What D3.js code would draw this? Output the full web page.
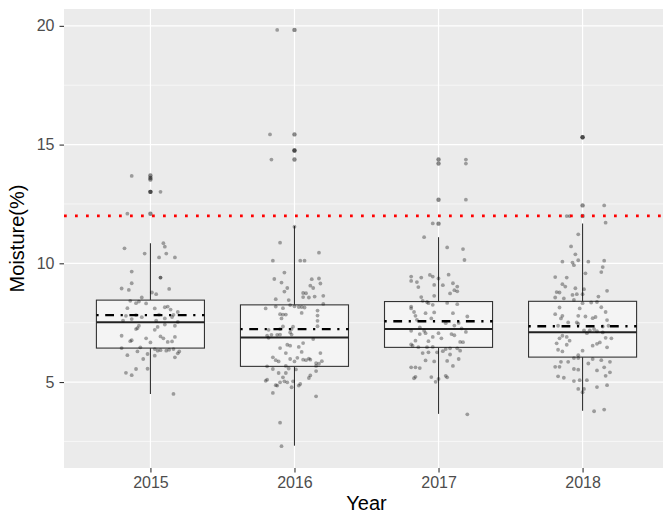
<!DOCTYPE html>
<html>
<head>
<meta charset="utf-8">
<script src="https://cdn.jsdelivr.net/npm/d3@7"></script>
<style>
  html, body { margin: 0; padding: 0; background: #fff; }
  svg { display: block; font-family: "Liberation Sans", Arial, Helvetica, sans-serif; }
</style>
</head>
<body>
<svg id="chart" width="663" height="516"></svg>
<script>
// ---------------- data ----------------
const years = ["2015", "2016", "2017", "2018"];
const yTicks = [5, 10, 15, 20];
const yMinorTicks = [2.5, 7.5, 12.5, 17.5];
const threshold = 12;

const boxLower  = [4.50, 2.32, 3.66, 3.79];
const boxQ1     = [6.43, 5.66, 6.46, 6.05];
const boxMedian = [7.52, 6.88, 7.23, 7.10];
const boxQ3     = [8.45, 8.25, 8.39, 8.40];
const boxUpper  = [10.84, 11.57, 11.10, 11.68];
const boxMean   = [7.82, 7.23, 7.56, 7.35];

const outliers2015 = [13.70, 13.60, 13.53, 13.01, 13.01, 12.09];
const outliers2016 = [19.83, 15.43, 14.75, 14.75, 14.37];
const outliers2017 = [14.37, 14.20, 12.68, 11.67];
const outliers2018 = [15.31, 15.31, 12.44, 11.99];

// [jitter offset (category units), moisture %]
const points2015 = [
  [-0.13,13.68],[0.07,13.01],[-0.16,12.09],
  [0.09,10.85],[0.10,10.70],[-0.18,10.63],[0.11,10.41],[-0.04,10.41],[0.06,10.25],[0.17,10.25],
  [-0.13,9.65],[0.07,9.40],[0.07,9.40],[-0.13,9.16],[-0.20,8.94],[-0.15,8.88],[0.13,8.92],
  [0.01,8.77],[0.04,8.70],[-0.06,8.56],[-0.14,8.42],[-0.08,8.39],[-0.10,8.32],[-0.03,8.31],
  [-0.16,8.11],[0.03,8.10],[0.10,8.15],[0.12,8.18],[0.14,8.05],[0.19,7.95],[-0.17,7.79],
  [-0.10,7.82],[0.06,7.84],[0.16,7.83],[-0.19,7.59],[-0.13,7.65],[-0.06,7.73],[0.04,7.59],
  [0.10,7.68],[0.15,7.74],[0.19,7.53],[0.10,7.42],[-0.08,7.37],[0.17,7.37],[0.05,7.32],
  [-0.09,7.27],[-0.10,7.23],[0.03,7.20],[-0.20,6.95],[0.07,6.92],[0.09,6.84],[0.17,6.90],
  [-0.03,6.84],[-0.14,6.72],[-0.13,6.76],[0.00,6.67],[0.12,6.69],[0.15,6.71],[-0.20,6.43],
  [-0.07,6.46],[0.03,6.39],[0.05,6.32],[0.07,6.34],[0.11,6.32],[0.13,6.36],[0.16,6.39],
  [0.20,6.29],[0.19,6.21],[-0.09,6.29],[-0.02,6.18],[-0.16,6.13],[0.03,6.11],[-0.05,5.97],
  [0.17,6.04],[-0.10,5.55],[-0.02,5.56],[-0.17,5.39],[-0.13,5.29],[0.16,4.50]
];
const points2016 = [
  [-0.12,19.83],[-0.17,15.43],[-0.16,14.37],
  [0.00,11.54],[-0.10,10.87],[0.17,10.45],[-0.15,10.11],[0.04,10.11],[0.07,10.11],[-0.07,9.61],
  [-0.14,9.34],[0.12,9.33],[0.17,9.36],[-0.09,9.19],[0.18,9.15],[0.11,9.06],[0.13,8.96],
  [-0.05,8.96],[-0.07,8.81],[0.06,8.75],[0.08,8.74],[0.20,8.63],[0.14,8.60],[0.06,8.58],
  [0.10,8.56],[-0.13,8.49],[-0.04,8.45],[0.20,8.29],[-0.03,8.24],[0.00,8.19],[-0.13,8.18],
  [0.03,8.16],[0.05,8.16],[0.07,8.14],[-0.20,8.10],[-0.08,8.11],[0.16,8.01],[0.05,7.91],
  [-0.10,7.86],[-0.08,7.84],[-0.06,7.84],[0.16,7.80],[-0.09,7.68],[0.16,7.58],[-0.08,7.34],
  [-0.01,7.33],[0.16,7.35],[-0.18,7.20],[-0.10,7.23],[-0.02,7.23],[-0.03,7.09],[-0.02,7.00],
  [-0.19,6.95],[-0.16,6.99],[-0.12,6.99],[-0.18,6.86],[-0.10,7.00],[0.13,6.81],[0.06,6.64],
  [-0.05,6.57],[-0.03,6.53],[0.03,6.48],[-0.10,6.43],[-0.06,6.22],[0.05,6.27],[0.18,6.22],
  [-0.15,6.04],[0.02,6.02],[0.10,5.99],[-0.03,5.97],[-0.13,5.92],[-0.11,5.87],[0.00,5.87],
  [0.06,5.94],[0.08,5.92],[0.11,5.94],[0.15,5.80],[0.15,5.68],[0.17,5.77],[0.19,5.88],
  [-0.19,5.66],[-0.15,5.55],[-0.06,5.68],[-0.04,5.57],[0.01,5.53],[-0.11,5.38],[-0.06,5.38],
  [0.15,5.46],[-0.08,5.20],[0.10,5.17],[0.11,5.28],[-0.19,5.10],[-0.20,5.05],[-0.10,4.99],
  [-0.07,5.03],[-0.05,4.99],[-0.01,5.03],[-0.13,4.87],[-0.12,4.85],[-0.02,4.78],[0.03,4.85],
  [0.04,4.92],[-0.15,4.54],[0.15,4.40],[-0.10,3.29],[-0.09,2.30]
];
const points2017 = [
  [0.19,14.37],[0.19,14.20],[0.19,12.68],[-0.04,11.68],
  [-0.10,11.10],[0.06,10.67],[0.17,10.60],[0.18,10.14],[-0.19,9.44],[-0.12,9.40],[-0.06,9.51],
  [-0.04,9.44],[0.00,9.36],[0.07,9.52],[-0.19,9.26],[-0.15,9.21],[0.10,9.16],[0.03,9.08],
  [-0.03,9.09],[-0.14,9.00],[0.13,9.02],[0.11,8.87],[0.13,8.82],[0.08,8.73],[-0.12,8.58],
  [-0.03,8.63],[-0.11,8.42],[-0.08,8.37],[-0.07,8.32],[-0.04,8.25],[0.06,8.33],[0.13,8.28],
  [-0.19,8.18],[-0.19,8.10],[-0.17,7.95],[-0.09,7.90],[-0.03,7.93],[0.10,7.90],[-0.16,7.79],
  [0.20,7.76],[-0.15,7.62],[-0.05,7.68],[0.05,7.48],[0.14,7.49],[-0.13,7.30],[0.11,7.38],
  [0.16,7.26],[-0.19,7.16],[-0.10,7.16],[0.19,7.11],[-0.13,7.02],[-0.09,7.06],[0.00,7.06],
  [0.09,7.02],[0.11,6.97],[-0.04,6.90],[0.02,6.84],[-0.16,6.74],[-0.07,6.72],[0.15,6.69],
  [0.17,6.68],[-0.19,6.58],[-0.18,6.53],[-0.14,6.47],[-0.08,6.47],[-0.04,6.48],[0.05,6.39],
  [0.08,6.42],[0.13,6.42],[0.15,6.32],[-0.11,6.22],[-0.07,6.25],[-0.01,6.25],[0.03,6.30],
  [0.08,6.16],[0.14,5.97],[-0.09,5.91],[-0.03,5.87],[0.06,5.89],[0.10,5.68],[-0.19,5.62],
  [-0.16,5.62],[-0.13,5.59],[-0.17,5.16],[-0.16,5.22],[-0.05,5.21],[0.00,5.13],[0.05,5.26],
  [0.06,5.20],[-0.02,5.01],[0.20,3.64]
];
const points2018 = [
  [0.15,12.44],[-0.11,11.99],[-0.09,11.99],[0.16,11.71],
  [-0.03,11.22],[-0.08,10.71],[-0.05,10.38],[-0.14,10.07],[-0.07,10.03],[-0.03,10.13],[0.04,10.07],
  [0.15,10.11],[-0.06,9.92],[0.14,9.84],[0.13,9.63],[0.02,9.58],[-0.19,9.42],[-0.11,9.40],
  [-0.14,9.12],[-0.12,9.02],[-0.05,8.95],[0.01,8.91],[-0.18,8.79],[-0.16,8.77],[0.17,8.84],
  [-0.07,8.67],[-0.04,8.70],[0.00,8.70],[-0.19,8.56],[-0.13,8.52],[0.11,8.60],[-0.06,8.46],
  [0.10,8.37],[0.00,8.32],[0.06,8.35],[0.13,8.15],[-0.16,8.14],[-0.02,8.10],[0.16,7.95],
  [-0.19,7.86],[-0.14,7.79],[-0.15,7.68],[-0.03,7.79],[0.02,7.76],[0.07,7.69],[0.09,7.74],
  [0.17,7.61],[-0.10,7.51],[-0.04,7.51],[-0.03,7.45],[-0.17,7.37],[0.14,7.34],[0.18,7.37],
  [0.01,7.18],[0.05,7.18],[0.08,7.23],[0.10,7.14],[0.14,7.09],[0.03,7.06],[-0.14,6.95],
  [-0.11,6.90],[0.20,6.84],[-0.16,6.84],[0.16,6.86],[-0.09,6.74],[0.12,6.67],[-0.18,6.63],
  [-0.11,6.57],[0.07,6.53],[0.10,6.61],[0.17,6.46],[-0.17,6.36],[-0.14,6.29],[0.00,6.32],
  [-0.03,6.13],[-0.06,6.01],[-0.03,6.01],[0.07,5.97],[0.13,5.92],[-0.15,5.85],[-0.10,5.85],
  [0.19,5.85],[0.04,5.78],[-0.19,5.64],[-0.16,5.64],[0.15,5.62],[-0.06,5.55],[-0.03,5.52],
  [0.10,5.49],[0.19,5.41],[-0.17,5.24],[-0.13,5.18],[0.16,5.26],[-0.06,5.04],[-0.02,5.08],
  [0.03,5.08],[0.10,4.79],[0.17,4.87],[-0.03,4.71],[0.01,4.71],[0.00,4.57],[0.08,3.77],[0.15,3.84]
];

const allPoints = [points2015, points2016, points2017, points2018];
const allOutliers = [outliers2015, outliers2016, outliers2017, outliers2018];

// ---------------- layout ----------------
const W = 663, H = 516;
const panel = { left: 64, right: 669, top: 9, bottom: 468 };

const svg = d3.select("#chart");

const x = d3.scalePoint().domain(years).range([panel.left, panel.right]).padding(0.6);
const step = x.step();
const y = d3.scaleLinear().domain([1.38, 20.71]).range([panel.bottom, panel.top]);

// panel background
svg.append("rect")
  .attr("x", panel.left).attr("y", panel.top)
  .attr("width", panel.right - panel.left).attr("height", panel.bottom - panel.top)
  .attr("fill", "#EBEBEB");

const g = svg.append("g");

// minor grid
g.selectAll(".yminor").data(yMinorTicks).join("line")
  .attr("x1", panel.left).attr("x2", panel.right)
  .attr("y1", d => y(d)).attr("y2", d => y(d))
  .attr("stroke", "#fff").attr("stroke-width", 0.6);
// major grid
g.selectAll(".ymajor").data(yTicks).join("line")
  .attr("x1", panel.left).attr("x2", panel.right)
  .attr("y1", d => y(d)).attr("y2", d => y(d))
  .attr("stroke", "#fff").attr("stroke-width", 1.2);
g.selectAll(".xmajor").data(years).join("line")
  .attr("x1", d => x(d)).attr("x2", d => x(d))
  .attr("y1", panel.top).attr("y2", panel.bottom)
  .attr("stroke", "#fff").attr("stroke-width", 1.2);

const bw = step * 0.75;

// boxes
years.forEach((yr, i) => {
  const cx = x(yr);
  g.append("line").attr("x1", cx).attr("x2", cx)
    .attr("y1", y(boxQ3[i])).attr("y2", y(boxUpper[i]))
    .attr("stroke", "#333").attr("stroke-width", 1.1);
  g.append("line").attr("x1", cx).attr("x2", cx)
    .attr("y1", y(boxQ1[i])).attr("y2", y(boxLower[i]))
    .attr("stroke", "#333").attr("stroke-width", 1.1);
  g.append("rect")
    .attr("x", cx - bw / 2).attr("y", y(boxQ3[i]))
    .attr("width", bw).attr("height", y(boxQ1[i]) - y(boxQ3[i]))
    .attr("fill", "#F4F4F4").attr("stroke", "#333").attr("stroke-width", 1.1);
  g.append("line").attr("x1", cx - bw / 2).attr("x2", cx + bw / 2)
    .attr("y1", y(boxMedian[i])).attr("y2", y(boxMedian[i]))
    .attr("stroke", "#222").attr("stroke-width", 2);
});

// outliers
years.forEach((yr, i) => {
  g.selectAll(null).data(allOutliers[i]).join("circle")
    .attr("cx", x(yr)).attr("cy", d => y(d)).attr("r", 2.2)
    .attr("fill", "#000").attr("fill-opacity", 0.45);
});

// jittered points
years.forEach((yr, i) => {
  g.selectAll(null).data(allPoints[i]).join("circle")
    .attr("cx", d => x(yr) + d[0] * step).attr("cy", d => y(d[1])).attr("r", 1.9)
    .attr("fill", "#000").attr("fill-opacity", 0.34);
});

// mean lines
years.forEach((yr, i) => {
  const cx = x(yr);
  g.append("line").attr("x1", cx - bw / 2).attr("x2", cx + bw / 2)
    .attr("y1", y(boxMean[i])).attr("y2", y(boxMean[i]))
    .attr("stroke", "#000").attr("stroke-width", 2.3)
    .attr("stroke-dasharray", "2.2,6.6,8.8,6.6");
});

// threshold line
g.append("line").attr("x1", panel.left).attr("x2", panel.right)
  .attr("y1", y(threshold)).attr("y2", y(threshold))
  .attr("stroke", "#FF0000").attr("stroke-width", 2.75)
  .attr("stroke-dasharray", "2.75,8.25");

// axes
const yAxis = svg.append("g").attr("transform", `translate(${panel.left},0)`)
  .call(d3.axisLeft(y).tickValues(yTicks).tickSize(4.5).tickPadding(5).tickFormat(d3.format("d")));
const xAxis = svg.append("g").attr("transform", `translate(0,${panel.bottom})`)
  .call(d3.axisBottom(x).tickSize(4.5).tickPadding(4));
[yAxis, xAxis].forEach(a => {
  a.select(".domain").remove();
  a.selectAll(".tick line").attr("stroke", "#333").attr("stroke-width", 1.1);
  a.selectAll(".tick text").attr("fill", "#4D4D4D")
    .style("font-size", "16px").style("font-family", "'Liberation Sans', Arial, sans-serif");
});

// axis titles
svg.append("text")
  .attr("x", (panel.left + panel.right) / 2).attr("y", 510)
  .attr("text-anchor", "middle").attr("fill", "#000")
  .style("font-size", "20px").text("Year");
svg.append("text")
  .attr("transform", `translate(24,${(panel.top + panel.bottom) / 2}) rotate(-90)`)
  .attr("text-anchor", "middle").attr("fill", "#000")
  .style("font-size", "20px").text("Moisture(%)");
</script>
</body>
</html>
